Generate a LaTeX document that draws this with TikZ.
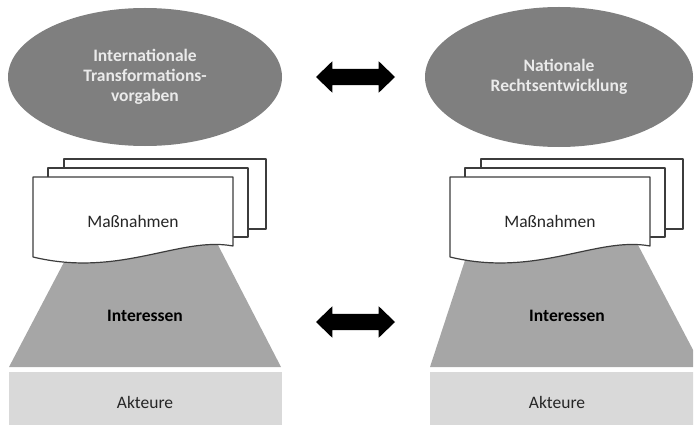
\documentclass[tikz,border=0pt]{standalone}
\usepackage{fontspec}
\setmainfont{Carlito}
\usetikzlibrary{shapes.geometric,shapes.arrows}
\definecolor{ellgray}{HTML}{7F7F7F}
\definecolor{trapgray}{HTML}{A6A6A6}
\definecolor{boxgray}{HTML}{D9D9D9}
\definecolor{goaltext}{HTML}{EAEAEA}
\definecolor{sheetline}{HTML}{3C3C3C}
\definecolor{labeltext}{HTML}{262626}

\begin{document}
\begin{tikzpicture}[x=1pt, y=-1pt,
  goal/.style={ellipse, fill=ellgray, text=goaltext, inner sep=0pt,
    font=\fontsize{17.5}{20}\selectfont\bfseries, align=center},
  sheet/.style={draw=sheetline, fill=white, line width=1.2pt, line join=round},
  twoway/.style={double arrow, fill=black, inner xsep=0pt, inner ysep=8pt,
    minimum height=79pt, minimum width=31pt,
    double arrow head extend=7.5pt, double arrow tip angle=88},
  lbl/.style={font=\fontsize{17.5}{20}\selectfont, text=labeltext},
  bold lbl/.style={lbl, font=\fontsize{17.5}{20}\selectfont\bfseries, text=black}]
\useasboundingbox (0,0) rectangle (695,425);
\clip (0,0) rectangle (693,425);

% draw the two ellipses
\node[goal, minimum width=274pt, minimum height=138pt] (intl) at (145,77)
  {Internationale\\Transformations-\\vorgaben};
\node[goal, minimum width=268pt, minimum height=140pt] (natl) at (559,77)
  {Nationale\\Rechtsentwicklung};

% the interest trapezoids
\fill[trapgray] (73,245) -- (218,245) -- (281,367) -- (9,367) -- cycle;
\fill[trapgray] (470,245) -- (638,245) -- (702,367) -- (430,367) -- cycle;

% the actor bars
\fill[boxgray] (9,372) rectangle (282,430);
\fill[boxgray] (430,372) rectangle (700,430);

% stacks of documents, right stack is shifted
\foreach \dx in {0,417} {
\begin{scope}[xshift=\dx]
\draw[sheet] (64,159) rectangle (266,229);
\draw[sheet] (48,168) rectangle (248,237);
\draw[sheet] (33,177) -- (233,177) -- (233,246)
  .. controls (180,236) and (120,278) .. (33,257) -- cycle;
\end{scope}
}

% the texts
\node[lbl] (massL) at (133,221) {Maßnahmen};
\node[lbl] (massR) at (550,221) {Maßnahmen};
\node[bold lbl] (intL) at (145,316) {Interessen};
\node[bold lbl] (intR) at (567,316) {Interessen};
\node[lbl] (aktL) at (145,402) {Akteure};
\node[lbl] (aktR) at (557,402) {Akteure};

% double arrows in between
\node[twoway] (linkTop) at (355.5,77) {};
\node[twoway] (linkBot) at (355.5,322) {};
\end{tikzpicture}
\end{document}
